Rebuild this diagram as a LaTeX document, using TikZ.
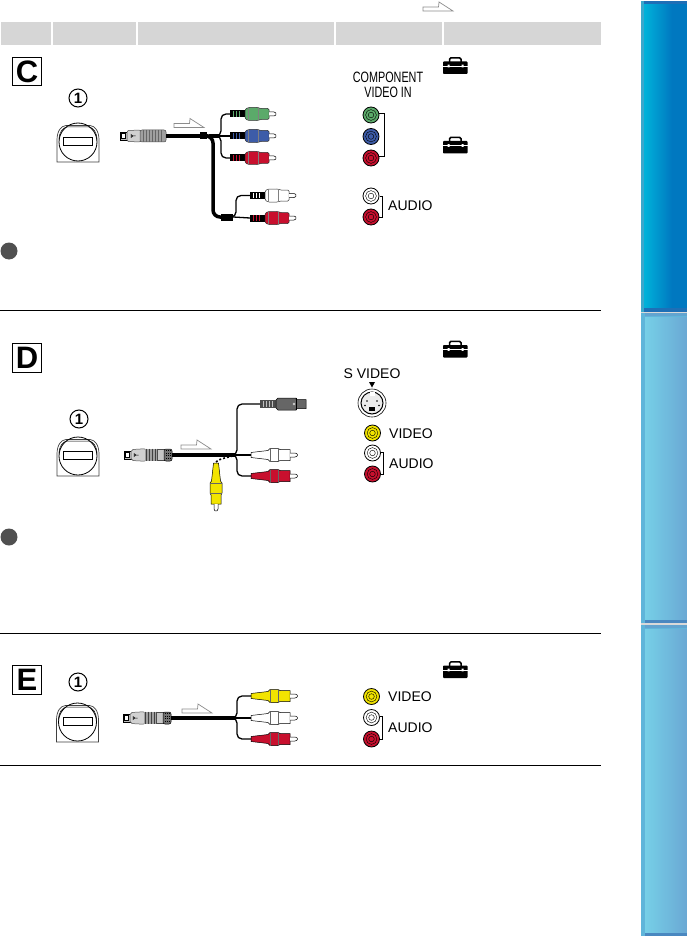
\documentclass[tikz,border=0pt]{standalone}
\usepackage{fontspec}
\usepackage{graphicx}
\setmainfont{Liberation Sans}
\definecolor{hdr}{HTML}{D6D6D6}
\definecolor{cgreen}{HTML}{5BAA6A}
\definecolor{cblue}{HTML}{3D5CA8}
\definecolor{cred}{HTML}{C8102E}
\definecolor{cyel}{HTML}{F2E400}
\definecolor{cwhite}{HTML}{FFFFFF}
\definecolor{plugg}{HTML}{A0A0A0}
\definecolor{bul}{HTML}{505050}
\tikzset{
  hband/.style={fill=hdr,draw=none},
  rule/.style={draw=black,line width=.9pt},
  lblbox/.style={draw=black,line width=1.1pt,fill=white,minimum width=28.5pt,minimum height=28.5pt,inner sep=0pt,font=\fontsize{31}{31}\selectfont\bfseries},
  numc/.style={circle,draw=black,line width=1pt,minimum size=18pt,inner sep=0pt,font=\fontsize{15}{15}\selectfont\bfseries},
  jacklab/.style={font=\fontsize{14}{14}\selectfont,anchor=west,inner sep=0pt},
  cable/.style={draw=black,line width=1.3pt,rounded corners=5pt},
  thickcable/.style={draw=black,line width=3.5pt},
  hint/.style={draw=black!45,line width=.7pt,fill=white,line join=miter},
  bracket/.style={draw=black,line width=.8pt},
}
\newcommand{\rcaplug}[4]{% name x y colour
  \coordinate (#1) at (#2,#3);
  \begin{scope}[shift={(#2,#3)}]
    \fill[black] (0,-3.5) rectangle (15,3.5);
    \foreach \s in {2.5,5.5,8.5}{\fill[#4] (\s,-2.6) rectangle (\s+1.2,2.6);}
    \draw[black!80,line width=.5pt,fill=#4,rounded corners=1.2pt] (15,-4.5) -- (18,-6.5) -- (28,-6.5) -- (30,-5.5) -- (39,-5.5) -- (39,5.5) -- (30,5.5) -- (28,6.5) -- (18,6.5) -- (15,4.5) -- cycle;
    \draw[black!50,line width=.4pt] (18,-6.5) -- (18,6.5) (28,-6.5) -- (28,6.5);
    \draw[black,line width=.5pt,fill=white,rounded corners=1pt] (39,-2) -- (45,-2) -- (46.5,0) -- (45,2) -- (39,2);
  \end{scope}}
\newcommand{\taperplug}[4]{% name x y colour
  \coordinate (#1) at (#2,#3);
  \begin{scope}[shift={(#2,#3)}]
    \draw[black,line width=.5pt,fill=#4] (0,-2.5) -- (17,-4.5) -- (19,-6.5) -- (27,-6.5) -- (29,-5.5) -- (39,-5.5) -- (39,5.5) -- (29,5.5) -- (27,6.5) -- (19,6.5) -- (17,4.5) -- (0,2.5) -- cycle;
    \draw[black!60,line width=.4pt] (19,-6.5) -- (19,6.5) (27,-6.5) -- (27,6.5);
    \draw[black,line width=.5pt,fill=white,rounded corners=1pt] (39,-2) -- (45,-2) -- (47,0) -- (45,2) -- (39,2);
  \end{scope}}
\newcommand{\jack}[4]{% name x y colour
  \coordinate (#1) at (#2,#3);
  \fill[#4] (#2,#3) circle (8);
  \draw[black,line width=.8pt] (#2,#3) circle (8);
  \draw[black,line width=.4pt] (#2,#3) circle (5.4);
  \draw[black,line width=.4pt] (#2,#3) circle (2.8);}
\newcommand{\toolbox}[2]{% x y (top-left)
  \begin{scope}[shift={(#1,#2)}]
    \draw[black,line width=1.5pt,rounded corners=1.5pt] (6.5,6) -- (6.5,1.3) -- (18,1.3) -- (18,6);
    \fill[black,rounded corners=.8pt] (0,5) rectangle (24.5,17.5);
    \fill[white] (0,9.2) rectangle (24.5,9.9);
    \fill[white] (4.5,8.2) rectangle (6.5,10.8) (18.5,8.2) rectangle (20.5,10.8);
  \end{scope}}
\newcommand{\camport}[2]{% x y of the circle's centre
  \begin{scope}[shift={(#1,#2)}]
    \draw[black!75,line width=.7pt,fill=white] (-21,20) -- (-21,-2) .. controls (-21,-11) and (-17,-16) .. (-12,-16.5) -- (12,-16.5) .. controls (17,-16) and (21,-11) .. (21,-2) -- (21,20) -- cycle;
    \draw[black,line width=.5pt] (-19,-2) .. controls (-19,-10) and (-15,-14.5) .. (-11,-15) -- (11,-15) .. controls (15,-14.5) and (19,-10) .. (19,-2);
    \draw[black,line width=.8pt] (0,0) circle (19);
    \draw[black,line width=.8pt,fill=white] (-14.5,-4.5) rectangle (14.5,3.5);
  \end{scope}}
\newcommand{\bigplug}[3]{% ribbed plug, wire leaves at x+46
  \coordinate (#1) at (#2+46,#3);
  \begin{scope}[shift={(#2,#3)}]
    \draw[black,line width=.6pt,fill=black!25] (0,-4) rectangle (7.5,4);
    \draw[black,line width=.5pt,fill=white] (1.5,-2.5) rectangle (5,2.5);
    \draw[black!70,line width=.5pt,fill=black!18,rounded corners=2pt] (7,-5.5) -- (21,-6) -- (21,6) -- (7,5.5) -- cycle;
    \draw[black!70,line width=.5pt,fill=plugg,rounded corners=2pt] (20,-6) -- (46,-6) -- (46,6) -- (20,6) -- cycle;
    \foreach \s in {23,26,29,32,35,38,41}{\draw[black!60,line width=.5pt] (\s,-6) -- (\s,6);}
    \draw[black,line width=.5pt] (11,-1.5) -- (13,0) -- (11,1.5) -- cycle (13,0) -- (15.5,0);
  \end{scope}}
\newcommand{\meshplug}[3]{% plug with dark end, wire leaves at x+48
  \coordinate (#1) at (#2+48,#3);
  \begin{scope}[shift={(#2,#3)}]
    \draw[black,line width=.6pt,fill=black!25] (0,-4) rectangle (7,4);
    \draw[black,line width=.5pt,fill=white] (1.5,-2.5) rectangle (5,2.5);
    \draw[black!70,line width=.5pt,fill=black!18,rounded corners=2pt] (7,-5.5) -- (22,-6.3) -- (22,6.3) -- (7,5.5) -- cycle;
    \fill[plugg] (21,-6.3) rectangle (33,6.3);
    \foreach \s in {22,25,28,31,33}{\draw[black!75,line width=.6pt] (\s,-6.3) -- (\s,6.3);}
    \draw[black!70,line width=.5pt,fill=black!22] (33,-5.5) rectangle (40,5.5);
    \draw[black,line width=.5pt,fill=black!55,rounded corners=2pt] (40,-6) -- (48,-6) -- (48,6) -- (40,6) -- cycle;
    \foreach \s in {42,44,46}{\draw[black,line width=.5pt,dotted] (\s,-5) -- (\s,5);}
    \draw[black,line width=.5pt] (10,-1.5) -- (12,0) -- (10,1.5) -- cycle (12,0) -- (14.5,0);
  \end{scope}}
\newcommand{\hintarrow}[2]{% x y of the lower left corner
  \draw[hint,shift={(#1,#2)}] (0,0) -- (0,-4) -- (15.5,-4) -- (16,-9) -- (30,0) -- cycle;}
\newcommand{\darktab}[2]{%
    \fill[tabedgeA] (641,#1) rectangle (687,#2);
    \shade[left color=tabLA,right color=tabRA] (644,#1+3) rectangle (672,#2-4);
    \fill[tabRA] (672,#1+3) rectangle (687,#2-4);
    \fill[tabtopA] (644,#1) rectangle (687,#1+3);
    \fill[tabtopA] (644,#2-4) rectangle (687,#2);}
\newcommand{\lighttab}[2]{%
    \fill[tabedgeB] (641,#1) rectangle (687,#2);
    \shade[left color=tabLB,right color=tabRB] (645,#1+4) rectangle (687,#2-3);
    \fill[tabtopB] (645,#1) rectangle (687,#1+2.5);
    \fill[tabbotB] (645,#2-3) rectangle (687,#2);}
\definecolor{tabedgeA}{HTML}{3AA8CC}
\definecolor{tabLA}{HTML}{00B2DA}
\definecolor{tabRA}{HTML}{0078C0}
\definecolor{tabtopA}{HTML}{1E6FB6}
\definecolor{tabedgeB}{HTML}{5FB5DA}
\definecolor{tabLB}{HTML}{76CFE7}
\definecolor{tabRB}{HTML}{6AA8D4}
\definecolor{tabtopB}{HTML}{62A4D0}
\definecolor{tabbotB}{HTML}{4A88C0}
\begin{document}
\begin{tikzpicture}[x=1pt,y=-1pt]
\useasboundingbox (0,0) rectangle (687,936);
\fill[white] (0,0) rectangle (687,936);
% side tabs
\darktab{1}{312}
\fill[black!15] (641,312) rectangle (687,313);
\lighttab{313}{623.3}
\fill[black!15] (641,623.3) rectangle (687,625);
\lighttab{625}{936}
% header
\hintarrow{423}{11}
\fill[hband] (1,22.5) rectangle (51,45);
\fill[hband] (53,22.5) rectangle (136,45);
\fill[hband] (138,22.5) rectangle (334,45);
\fill[hband] (336,22.5) rectangle (442,45);
\fill[hband] (444,22.5) rectangle (601,45);
% ---------- C
\node[lblbox] (lc) at (27,71.5) {C};
\node[numc] (nc) at (78,98) {1};
\camport{78}{142}
\bigplug{pc}{120}{136}
\hintarrow{174}{127.5}
\coordinate (splitC) at (208.5,136);
\node[fill=black,minimum width=7pt,minimum height=7pt,inner sep=0pt] (bc) at (203.5,136) {};
\draw[thickcable] (pc) -- (bc.west);
\draw[thickcable] (208.5,136) -- (219,136);
\node[fill=black,minimum width=12pt,minimum height=7pt,inner sep=0pt] (bd) at (227,217) {};
\draw[thickcable,rounded corners=7pt] (splitC) -- (213,136) -- (213,217) -- (bd.west);
\rcaplug{g1}{230}{114}{cgreen}
\rcaplug{g2}{230}{136}{cblue}
\rcaplug{g3}{230}{158}{cred}
\rcaplug{a1}{250}{195.5}{cwhite}
\rcaplug{a2}{250}{218}{cred}
\draw[cable] (219,136) -- (g2);
\draw[cable] (219,136) -- (221,136) -- (221,114) -- (g1);
\draw[cable] (219,136) -- (221,136) -- (221,158) -- (g3);
\draw[cable] (bd.east) -- (a2);
\draw[cable] (bd.east) -- (236,217) -- (236,195.5) -- (a1);
\node[font=\fontsize{15}{15}\selectfont,align=center,inner sep=0pt] (tc) at (388,85) {\scalebox{.72}[1]{COMPONENT}\\\scalebox{.72}[1]{VIDEO IN}};
\jack{jg}{371}{115}{cgreen}
\jack{jb}{371}{136.5}{cblue}
\jack{jr}{371}{158}{cred}
\draw[bracket] (jg)++(8,-2) -| (384,156) -- (379,156);
\jack{ja}{371}{196}{cwhite}
\jack{jc}{371}{217}{cred}
\draw[bracket] (ja)++(9,0) -| (382.5,217) -- (379,217);
\node[jacklab] (ac) at (388,206) {AUDIO};
\toolbox{443}{56.5}
\toolbox{443}{136}
\fill[bul] (9,251) circle (8.5);
\coordinate (r1a) at (0,310); \coordinate (r1b) at (601,310);
\draw[rule] (r1a) -- (r1b);
% ---------- D
\node[lblbox] (ld) at (27,358) {D};
\node[numc] (nd) at (79,419) {1};
\camport{78}{456}
\meshplug{pd}{124}{455}
\hintarrow{181}{449}
\coordinate (splitD) at (236,455);
\draw[thickcable] (pd) -- (splitD);
% S-video plug
\coordinate (sv) at (260,404);
\begin{scope}[shift={(sv)}]
  \fill[black!70] (0,-3.8) rectangle (16,3.8);
  \foreach \s in {2.5,5.5,8.5,11.5}{\fill[black!25] (\s,-3) rectangle (\s+1,3);}
  \draw[black,line width=.5pt,fill=black!60] (16,-4) -- (18,-6) -- (36,-6) -- (36,-4.5) -- (46,-4.5) -- (46,4.5) -- (36,4.5) -- (36,6) -- (18,6) -- (16,4) -- cycle;
  \draw[black,line width=.5pt] (36,-6) -- (36,6);
  \fill[black!20] (34,0) circle (1.3);
\end{scope}
\taperplug{d2}{251}{455}{cwhite}
\taperplug{d3}{251}{476}{cred}
\draw[cable] (splitD) -- (d2);
\draw[cable] (splitD) -- (237,455) -- (237,404) -- (sv);
\draw[cable] (splitD) -- (237,455) -- (237,476) -- (d3);
\coordinate (yt) at (216,462);
\draw[black,line width=1.6pt,dash pattern=on 2pt off 2pt] (yt) .. controls (218,459) and (226,458) .. (splitD);
\begin{scope}[shift={(216,461)}]
  \draw[black,line width=.5pt,fill=cyel] (-2.5,2) -- (-4.5,20) -- (-6,22) -- (-6,32) -- (-5,34) -- (-5,43) -- (5,43) -- (5,34) -- (6,32) -- (6,22) -- (4.5,20) -- (2.5,2) -- cycle;
  \draw[black!60,line width=.4pt] (-6,22) -- (6,22) (-6,32) -- (6,32);
  \draw[black,line width=.5pt,fill=white,rounded corners=1pt] (-2,43) -- (-2,49) -- (0,50.5) -- (2,49) -- (2,43);
\end{scope}
\node[jacklab,font=\fontsize{14}{14}\selectfont,anchor=center] (ts) at (372,373.5) {S VIDEO};
\fill[black] (369,382) -- (375,382) -- (372,387.5) -- cycle;
\coordinate (svj) at (372,403);
\draw[black,line width=.6pt,fill=white] (svj) circle (14);
\draw[black,line width=1pt,fill=black!8] (svj) circle (11);
\fill[white] (369.5,391.5) rectangle (374.5,396);
\fill[black] (369,406.5) rectangle (375,410.5);
\foreach \a/\b in {-5/-2,5/-2,-7/2.5,7/2.5}{\fill[black] (svj) ++(\a,\b) circle (.9);}
\jack{jdv}{372.5}{433}{cyel}
\jack{jda}{372.5}{453}{cwhite}
\jack{jdr}{372.5}{474}{cred}
\draw[bracket] (jda)++(8,-1) -| (383.5,474) -- (380.5,474);
\node[jacklab] (vd) at (389,433.5) {VIDEO};
\node[jacklab] (ad) at (389,464) {AUDIO};
\toolbox{443}{340}
\fill[bul] (9,537) circle (8.5);
\coordinate (r2a) at (0,633); \coordinate (r2b) at (601,633);
\draw[rule] (r2a) -- (r2b);
% ---------- E
\node[lblbox] (le) at (27,680) {E};
\node[numc] (ne) at (78,682) {1};
\camport{77.5}{722}
\meshplug{pe}{123}{718}
\hintarrow{182}{713}
\coordinate (splitE) at (236,718);
\draw[thickcable] (pe) -- (splitE);
\taperplug{e1}{251}{696}{cyel}
\taperplug{e2}{251}{718}{cwhite}
\taperplug{e3}{251}{739}{cred}
\draw[cable] (splitE) -- (e2);
\draw[cable] (splitE) -- (237,718) -- (237,696) -- (e1);
\draw[cable] (splitE) -- (237,718) -- (237,739) -- (e3);
\jack{jev}{371.5}{696.5}{cyel}
\jack{jea}{371.5}{717.5}{cwhite}
\jack{jer}{371.5}{739}{cred}
\draw[bracket] (jea)++(8,-1) -| (382.5,739) -- (379.5,739);
\node[jacklab] (ve) at (388,697) {VIDEO};
\node[jacklab] (ae) at (388,728) {AUDIO};
\toolbox{443}{660.5}
\coordinate (r3a) at (0,765.5); \coordinate (r3b) at (601,765.5);
\draw[rule] (r3a) -- (r3b);
\end{tikzpicture}
\end{document}
